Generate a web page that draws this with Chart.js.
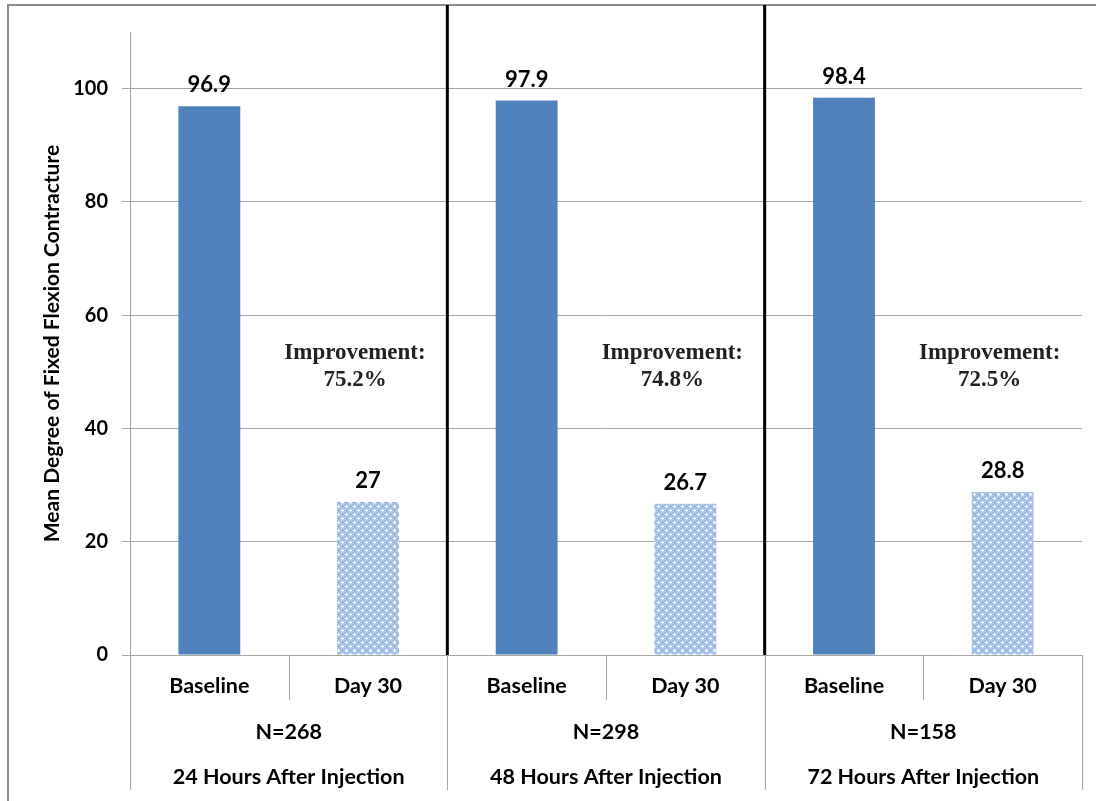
<!DOCTYPE html>
<html>
<head>
<meta charset="utf-8">
<script src="https://cdn.jsdelivr.net/npm/chart.js@4/dist/chart.umd.min.js"></script>
<style>
  body { margin: 0; background: #fff; }
  #wrap { width: 1096px; height: 801px; }
</style>
</head>
<body>
<div id="wrap"><canvas id="canvas" width="1096" height="801"></canvas></div>
<script>
const labels = ["Baseline", "Day 30", "Baseline", "Day 30", "Baseline", "Day 30"];
const values = [96.9, 27, 97.9, 26.7, 98.4, 28.8];
const groups = ["24 Hours After Injection", "48 Hours After Injection", "72 Hours After Injection"];
const nLabels = ["N=268", "N=298", "N=158"];
const improvements = ["75.2%", "74.8%", "72.5%"];
const yTicks = [0, 20, 40, 60, 80, 100];

const SANS = "Lato, 'Open Sans', sans-serif";
const SERIF = "'Liberation Serif', 'Times New Roman', serif";
const LINE = "#a6a6a6";

// dotted light-blue fill used for the Day 30 bars
function makePattern() {
  const c = document.createElement("canvas");
  c.width = 8;
  c.height = 8;
  const g = c.getContext("2d");
  g.fillStyle = "#a9c2e7";
  g.fillRect(0, 0, 8, 8);
  g.fillStyle = "#ffffff";
  g.fillRect(2, 1, 1, 3);
  g.fillRect(1, 2, 3, 1);
  g.fillRect(6, 5, 1, 3);
  g.fillRect(5, 6, 3, 1);
  g.fillStyle = "#5f8cc8";
  g.fillRect(6, 2, 1, 1);
  g.fillRect(2, 6, 1, 1);
  return g.createPattern(c, "repeat");
}

const ctx = document.getElementById("canvas").getContext("2d");
const dotted = makePattern();
const colors = labels.map((l) => (l === "Baseline" ? "#4f81bd" : dotted));

const decorations = {
  id: "decorations",
  beforeDraw(chart) {
    const c = chart.ctx;
    c.save();
    c.fillStyle = "#fff";
    c.fillRect(0, 0, chart.width, chart.height);
    c.restore();
  },
  afterDatasetsDraw(chart) {
    const c = chart.ctx;
    const area = chart.chartArea;
    const x = chart.scales.x;
    const y = chart.scales.y;
    const bars = chart.getDatasetMeta(0).data;
    const w = (area.right - area.left) / labels.length;
    c.save();

    // outer frame (left and top only)
    c.strokeStyle = "#8c8c8c";
    c.lineWidth = 2;
    c.beginPath();
    c.moveTo(8, chart.height);
    c.lineTo(8, 5);
    c.lineTo(chart.width, 5);
    c.stroke();

    // value labels
    c.fillStyle = "#000";
    c.font = "bold 22px " + SANS;
    c.textAlign = "center";
    c.textBaseline = "bottom";
    bars.forEach((b, i) => {
      c.fillText(String(values[i]), b.x, b.y - 10);
    });

    // improvement notes
    c.fillStyle = "#222";
    c.font = "bold 23px " + SERIF;
    c.textBaseline = "middle";
    improvements.forEach((t, g) => {
      const b = bars[g * 2 + 1];
      const ty = y.getPixelForValue(53.3);
      c.fillText("Improvement:", b.x - 13, ty);
      c.fillText(t, b.x - 13, ty + 27);
    });

    // thick separators between groups
    c.strokeStyle = "#000";
    c.lineWidth = 3;
    for (let g = 1; g < groups.length; g++) {
      const sx = (x.getPixelForValue(g * 2 - 1) + x.getPixelForValue(g * 2)) / 2;
      c.beginPath();
      c.moveTo(sx, 5);
      c.lineTo(sx, area.bottom);
      c.stroke();
    }

    // category table under the axis
    c.strokeStyle = LINE;
    c.lineWidth = 1;
    c.beginPath();
    c.moveTo(area.left - 8, area.bottom + 0.5);
    c.lineTo(area.right, area.bottom + 0.5);
    for (let i = 0; i <= labels.length; i++) {
      const lx = Math.round(area.left + i * w) + 0.5;
      c.moveTo(lx, area.bottom);
      c.lineTo(lx, i % 2 === 0 ? area.bottom + 135 : area.bottom + 45);
    }
    c.stroke();

    c.fillStyle = "#000";
    c.font = "bold 21.5px " + SANS;
    c.textBaseline = "middle";
    labels.forEach((l, i) => {
      c.fillText(l, x.getPixelForValue(i), area.bottom + 31);
    });
    groups.forEach((gName, g) => {
      const gx = (x.getPixelForValue(g * 2) + x.getPixelForValue(g * 2 + 1)) / 2;
      c.fillText(nLabels[g], gx, area.bottom + 77);
      c.fillText(gName, gx, area.bottom + 122);
    });

    // axis title
    c.translate(52, (area.top + area.bottom) / 2);
    c.rotate(-Math.PI / 2);
    c.font = "bold 21px " + SANS;
    c.fillText("Mean Degree of Fixed Flexion Contracture", 0, 0);
    c.restore();
  },
};

new Chart(ctx, {
  type: "bar",
  data: {
    labels: labels,
    datasets: [
      {
        data: values,
        backgroundColor: colors,
        borderWidth: 0,
        barPercentage: 0.39,
        categoryPercentage: 1,
      },
    ],
  },
  options: {
    responsive: false,
    animation: false,
    events: [],
    layout: { padding: { top: 32, right: 14, left: 0, bottom: 0 } },
    plugins: { legend: { display: false }, tooltip: { enabled: false } },
    scales: {
      x: {
        ticks: { display: false },
        grid: { display: false },
        border: { display: false },
        afterFit(scale) {
          scale.height = 146;
        },
      },
      y: {
        min: 0,
        max: 110,
        afterBuildTicks(scale) {
          scale.ticks = yTicks.map((v) => ({ value: v }));
        },
        ticks: {
          padding: 14,
          color: "#000",
          font: { family: SANS, size: 20, weight: "bold" },
        },
        grid: { color: LINE, tickLength: 8 },
        border: { color: LINE },
        afterFit(scale) {
          scale.width = 130;
        },
      },
    },
  },
  plugins: [decorations],
});
</script>
</body>
</html>
